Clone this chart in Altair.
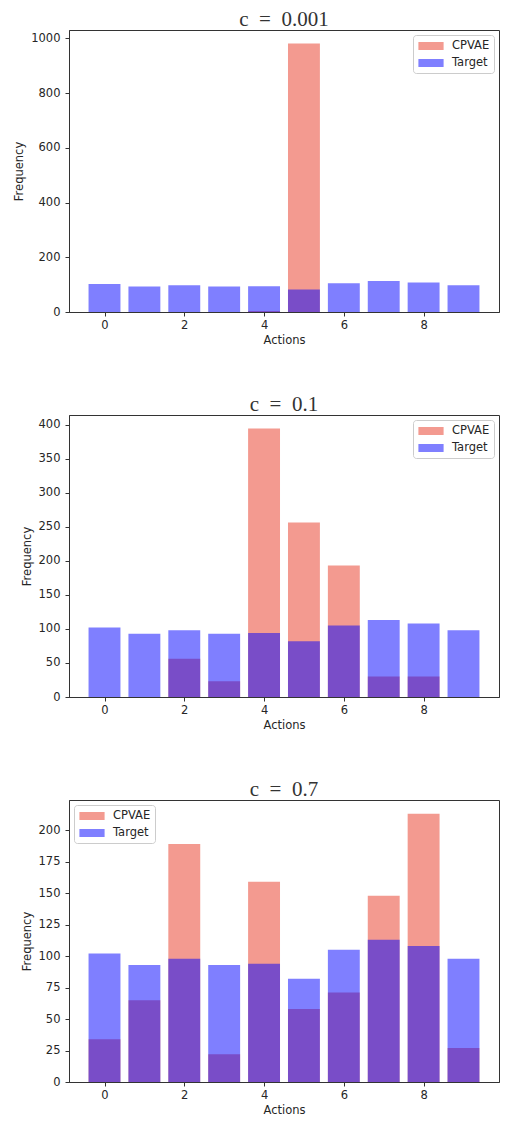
import altair as alt
import pandas as pd

actions = list(range(10))
target = [102, 93, 98, 93, 94, 82, 105, 113, 108, 98]
cpvae_c0001 = [0, 0, 0, 0, 4, 982, 0, 0, 0, 0]
cpvae_c01 = [0, 0, 56, 23, 394, 256, 193, 30, 30, 0]
cpvae_c07 = [34, 65, 189, 22, 159, 58, 71, 148, 213, 27]
titles = ["c\u2002=\u20020.001", "c\u2002=\u20020.1", "c\u2002=\u20020.7"]
y_max = [1031, 414, 224]
y_ticks = [list(range(0, 1001, 200)), list(range(0, 401, 50)), list(range(0, 201, 25))]
legend_orient = ["top-right", "top-right", "top-left"]
series = ["CPVAE", "Target"]
colors = ["#F39A90", "#0000FF"]
x_ticks = [0, 2, 4, 6, 8]


def make_legend(orient):
    return alt.Legend(
        title=None, orient=orient, offset=5,
        symbolType="M-1.8,-0.57H1.8V0.57H-1.8Z", symbolSize=196,
        symbolStrokeWidth=0, symbolOffset=7, labelOffset=14, rowPadding=4,
        labelFont="DejaVu Sans", labelFontSize=11.5, labelColor="#262626",
        padding=4, strokeColor="#cccccc", fillColor="#ffffff",
        cornerRadius=3,
    )


def panel(cp, title, ymax, ticks, orient):
    df = pd.DataFrame({
        "action": actions * 2,
        "freq": cp + target,
        "series": ["CPVAE"] * 10 + ["Target"] * 10,
    })
    return (
        alt.Chart(df, title=alt.Title(title, font="Liberation Serif", fontSize=21,
                                      fontWeight="normal", color="#333333",
                                      offset=0, anchor="middle", frame="group"))
        .transform_calculate(x0="datum.action - 0.4", x1="datum.action + 0.4")
        .mark_bar()
        .encode(
            x=alt.X("x0:Q", scale=alt.Scale(domain=[-0.89, 9.89], nice=False, zero=False),
                    axis=alt.Axis(values=x_ticks, title="Actions", format="d")),
            x2="x1:Q",
            y=alt.Y("freq:Q", stack=None, scale=alt.Scale(domain=[0, ymax], nice=False),
                    axis=alt.Axis(values=ticks, title="Frequency", format="d")),
            y2=alt.datum(0),
            color=alt.Color("series:N", scale=alt.Scale(domain=series, range=colors),
                            legend=make_legend(orient)),
            opacity=alt.Opacity("series:N", scale=alt.Scale(domain=series, range=[1, 0.5]),
                                legend=make_legend(orient)),
        )
        .properties(width=430, height=282)
    )


panels = [panel(c, t, m, tk, o) for c, t, m, tk, o in
          zip([cpvae_c0001, cpvae_c01, cpvae_c07], titles, y_max, y_ticks, legend_orient)]

chart = (
    alt.vconcat(*panels, spacing=46)
    .properties(padding={"left": 5, "top": 0, "right": 0, "bottom": 0})
    .configure_view(stroke="#333333", strokeWidth=1)
    .configure_axis(grid=False, domainColor="#333333", tickColor="#333333",
                    labelFont="DejaVu Sans", labelFontSize=11.5, titleFont="DejaVu Sans",
                    titleFontSize=11.5, titleFontWeight="normal", labelColor="#262626",
                    titleColor="#262626", tickSize=4, labelPadding=3, titlePadding=4)
    .configure_axisY(labelPadding=5, titlePadding=6)
)

chart.save("out.html", embed_options={"renderer": "svg", "actions": False})
